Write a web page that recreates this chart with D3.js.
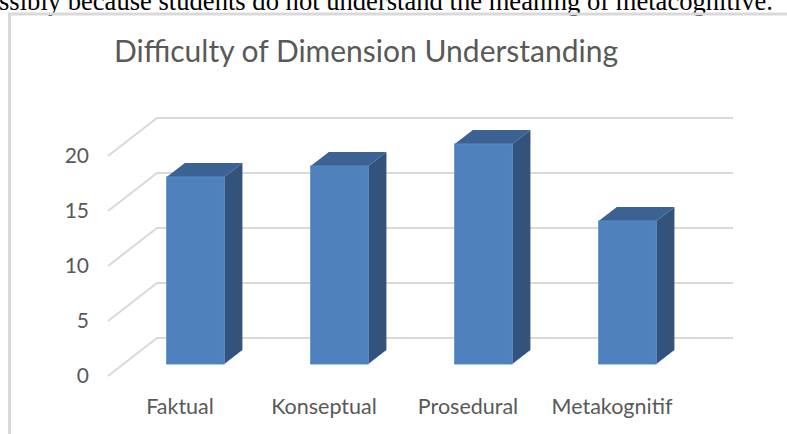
<!DOCTYPE html>
<html>
<head>
<meta charset="utf-8">
<script src="https://cdn.jsdelivr.net/npm/d3@7"></script>
<style>
  body { margin: 0; background: #fff; }
  svg { display: block; }
</style>
</head>
<body>
<div id="chart"></div>
<script>
// chart values
var categories = ["Faktual", "Konseptual", "Prosedural", "Metakognitif"];
var values = [17, 18, 20, 13];
var yTicks = [0, 5, 10, 15, 20];
var chartTitle = "Difficulty of Dimension Understanding";
var captionLine = "ssibly because students do not understand the meaning of metacognitive.";

var W = 787, H = 434;
var depthX = 49, depthY = 38;      // offset of the back wall from the front plane
var barF0 = 0.316, barF1 = 0.686;  // bar depth, as fraction of the floor depth

var svg = d3.select("#chart").append("svg")
  .attr("width", W)
  .attr("height", H);

// caption text of the page (cut at the top, as in the scan)
svg.append("text")
  .attr("x", -1)
  .attr("y", 10)
  .style("font-family", "'Liberation Serif', 'Times New Roman', serif")
  .style("font-size", "26.6px")
  .attr("fill", "#000")
  .text(captionLine);

// chart frame
svg.append("path")
  .attr("d", "M9.5," + H + "V14H" + W)
  .attr("fill", "none")
  .attr("stroke", "#d9d9d9")
  .attr("stroke-width", 3);

var x = d3.scaleBand()
  .domain(categories)
  .range([108, 684])
  .paddingInner(0.6)
  .paddingOuter(0.3);

var y = d3.scaleLinear()
  .domain([0, 20])
  .range([376, 156]);

// back wall gridlines + side wall diagonals
var grid = svg.append("g");
grid.selectAll("path")
  .data(yTicks)
  .enter()
  .append("path")
  .attr("d", function(d) {
    return "M108," + y(d) + "L" + (108 + depthX) + "," + (y(d) - depthY) + "H" + (684 + depthX);
  })
  .attr("fill", "none")
  .attr("stroke", "#d9d9d9")
  .attr("stroke-width", 2);

// y tick labels
svg.append("g").selectAll("text")
  .data(yTicks)
  .enter()
  .append("text")
  .attr("x", 89)
  .attr("y", function(d) { return y(d); })
  .attr("dy", "0.35em")
  .attr("text-anchor", "end")
  .style("font-family", "Lato, 'Open Sans', sans-serif")
  .style("font-size", "21px")
  .attr("fill", "#595959")
  .text(function(d) { return d; });

// 3d bars
var bars = svg.append("g").selectAll("g")
  .data(categories)
  .enter()
  .append("g");

var ox0 = depthX * barF0, oy0 = depthY * barF0;
var ddx = depthX * (barF1 - barF0), ddy = depthY * (barF1 - barF0);

bars.each(function(c, i) {
  var g = d3.select(this);
  var x0 = x(c) + ox0, x1 = x0 + x.bandwidth();
  var yb = y(0) - oy0, yt = y(values[i]) - oy0;
  // top
  g.append("path")
    .attr("d", "M" + x0 + "," + yt + "L" + (x0 + ddx) + "," + (yt - ddy) + "L" + (x1 + ddx) + "," + (yt - ddy) + "L" + x1 + "," + yt + "Z")
    .attr("fill", "#3b6293");
  // side
  g.append("path")
    .attr("d", "M" + x1 + "," + yt + "L" + (x1 + ddx) + "," + (yt - ddy) + "L" + (x1 + ddx) + "," + (yb - ddy) + "L" + x1 + "," + yb + "Z")
    .attr("fill", "#33537d");
  // front
  g.append("rect")
    .attr("x", x0)
    .attr("y", yt)
    .attr("width", x.bandwidth())
    .attr("height", yb - yt)
    .attr("fill", "#4f81bd")
    .attr("stroke", "#5a8ac4")
    .attr("stroke-width", 1);
});

// category labels
svg.append("g").selectAll("text")
  .data(categories)
  .enter()
  .append("text")
  .attr("x", function(d) { return x(d) + x.bandwidth() / 2; })
  .attr("y", 414)
  .attr("text-anchor", "middle")
  .style("font-family", "Lato, 'Open Sans', sans-serif")
  .style("font-size", "21.5px")
  .attr("fill", "#595959")
  .text(function(d) { return d; });

// title
svg.append("text")
  .attr("x", 366)
  .attr("y", 62)
  .attr("text-anchor", "middle")
  .style("font-family", "Lato, 'Open Sans', sans-serif")
  .style("font-size", "30px")
  .attr("fill", "#595959")
  .text(chartTitle);
</script>
</body>
</html>
